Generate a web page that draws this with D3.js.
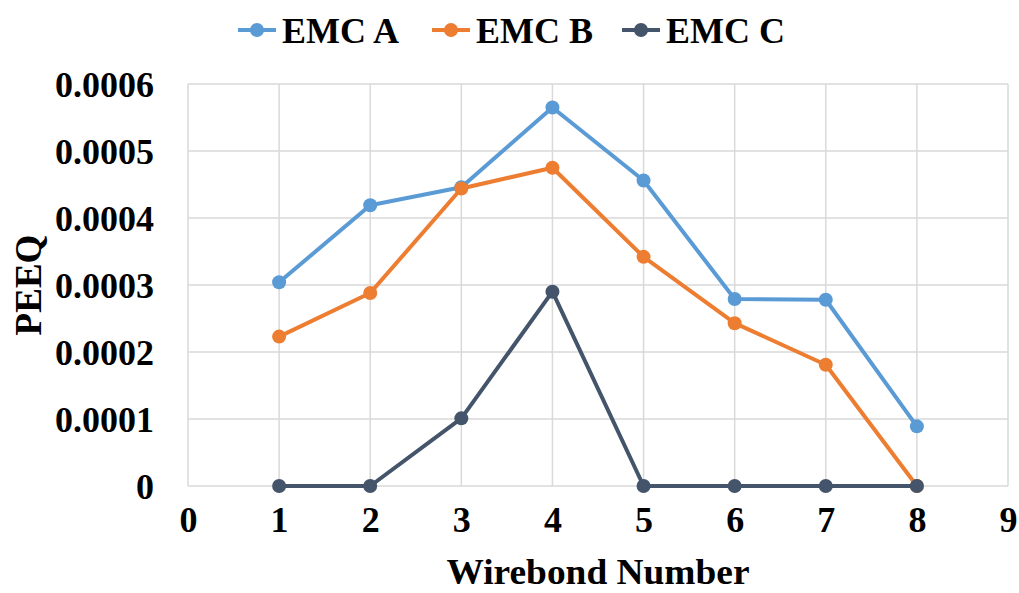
<!DOCTYPE html>
<html><head><meta charset="utf-8">
<script src="https://cdn.jsdelivr.net/npm/d3@7"></script>
<style>body{margin:0;background:#fff}svg{display:block}text{font-family:"Liberation Serif","Times New Roman",serif;font-weight:bold;fill:#000}</style>
</head><body><svg id="c" width="1019" height="593"></svg>
<script>
const xValues = [1, 2, 3, 4, 5, 6, 7, 8];
const emcA = [0.000304, 0.000419, 0.000446, 0.000565, 0.000456, 0.000279, 0.000278, 0.000089];
const emcB = [0.000223, 0.000288, 0.000444, 0.000475, 0.000342, 0.000243, 0.000181, 0];
const emcC = [0, 0, 0.000101, 0.000290, 0, 0, 0, 0];
const seriesNames = ["EMC A", "EMC B", "EMC C"];
const colors = ["#5B9BD5", "#ED7D31", "#44546A"];
const xTicks = [0, 1, 2, 3, 4, 5, 6, 7, 8, 9];
const yTicks = [0, 0.0001, 0.0002, 0.0003, 0.0004, 0.0005, 0.0006];
const yTickLabels = ["0", "0.0001", "0.0002", "0.0003", "0.0004", "0.0005", "0.0006"];

const svg = d3.select("#c");
const L = 188, R = 1008, T = 84, B = 486;
const x = d3.scaleLinear().domain([0, 9]).range([L, R]);
const y = d3.scaleLinear().domain([0, 0.0006]).range([B, T]);

// gridlines
const grid = svg.append("g");
grid.selectAll("line.h").data(yTicks).enter().append("line")
  .attr("x1", L).attr("x2", R).attr("y1", d => y(d)).attr("y2", d => y(d))
  .attr("stroke", "#d9d9d9").attr("stroke-width", 1.5);
grid.selectAll("line.v").data(xTicks).enter().append("line")
  .attr("y1", T).attr("y2", B).attr("x1", d => x(d)).attr("x2", d => x(d))
  .attr("stroke", "#d9d9d9").attr("stroke-width", 1.5);

// axes
const yAxis = d3.axisLeft(y).tickValues(yTicks).tickFormat((d, i) => yTickLabels[i]).tickSize(0).tickPadding(34);
const gy = svg.append("g").attr("transform", `translate(${L},0)`).call(yAxis);
gy.select(".domain").remove();
gy.selectAll("text").attr("font-size", 36).attr("font-family", "Liberation Serif").attr("font-weight", "bold").attr("fill", "#000").attr("dy", "0.34em");

const xAxis = d3.axisBottom(x).tickValues(xTicks).tickFormat(d3.format("d")).tickSize(0).tickPadding(20);
const gx = svg.append("g").attr("transform", `translate(0,${B})`).call(xAxis);
gx.select(".domain").remove();
gx.selectAll("text").attr("font-size", 36).attr("font-family", "Liberation Serif").attr("font-weight", "bold").attr("fill", "#000");

// series
const allSeries = [emcA, emcB, emcC];
const line = d3.line().x((d, i) => x(xValues[i])).y(d => y(d));
allSeries.forEach((s, k) => {
  const g = svg.append("g");
  g.append("path").datum(s).attr("d", line).attr("fill", "none")
    .attr("stroke", colors[k]).attr("stroke-width", 4).attr("stroke-linejoin", "round");
  g.selectAll("circle").data(s).enter().append("circle")
    .attr("cx", (d, i) => x(xValues[i])).attr("cy", d => y(d)).attr("r", 7)
    .attr("fill", colors[k]);
});

// axis titles
svg.append("text").attr("x", 598).attr("y", 584).attr("text-anchor", "middle")
  .attr("font-size", 35).attr("textLength", 303).attr("lengthAdjust", "spacingAndGlyphs").text("Wirebond Number");
svg.append("text").attr("transform", "translate(41,285) rotate(-90)").attr("text-anchor", "middle")
  .attr("font-size", 37).text("PEEQ");

// legend
const legX = [238, 432, 622];
seriesNames.forEach((n, k) => {
  const g = svg.append("g").attr("transform", `translate(${legX[k]},30)`);
  g.append("line").attr("x1", 0).attr("x2", 38).attr("y1", 0).attr("y2", 0)
    .attr("stroke", colors[k]).attr("stroke-width", 4);
  g.append("circle").attr("cx", 19).attr("cy", 0).attr("r", 7).attr("fill", colors[k]);
  g.append("text").attr("x", 44).attr("y", 0).attr("dy", "0.35em").attr("font-size", 36).text(n);
});
</script></body></html>
